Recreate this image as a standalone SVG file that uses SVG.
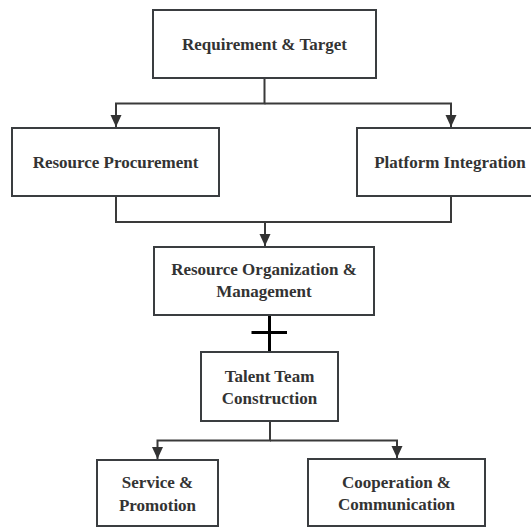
<svg xmlns="http://www.w3.org/2000/svg" width="531" height="527" viewBox="0 0 531 527">
  <style>
    .box { fill: #ffffff; stroke: #3a3d40; stroke-width: 2; }
    .label { font-family: "Liberation Serif", "Times New Roman", serif; font-weight: bold; font-size: 17px; fill: #333333; text-anchor: middle; }
    .link { fill: none; stroke: #3a3a3a; stroke-width: 2; }
    .cross { fill: none; stroke: #000000; stroke-width: 3; }
  </style>
  <defs>
    <marker id="arrow" viewBox="0 0 12 14" refX="12" refY="7" markerWidth="12" markerHeight="14" markerUnits="userSpaceOnUse" orient="auto">
      <path d="M0,1.5 L12,7 L0,12.5 Z" fill="#333333"/>
    </marker>
  </defs>
  <rect width="531" height="527" fill="#ffffff"/>

  <g id="connectors">
    <path class="link" d="M264.5,78 V103.5 H116 V127" marker-end="url(#arrow)"/>
    <path class="link" d="M264.5,103.5 H451 V127" />
    <path class="link" d="M451,103.5 V127" marker-end="url(#arrow)"/>
    <path class="link" d="M116,196 V222 H451 V196"/>
    <path class="link" d="M265,222 V246" marker-end="url(#arrow)"/>
    <path class="cross" d="M269.5,315 V351 M251.5,332.5 H287"/>
    <path class="link" d="M270,421 V440.5 H157.5 V459" marker-end="url(#arrow)"/>
    <path class="link" d="M270,440.5 H397 V458" marker-end="url(#arrow)"/>
  </g>

  <g id="requirement-target">
    <rect class="box" x="153" y="10" width="223" height="68"/>
    <text class="label" x="264.5" y="50">Requirement &amp; Target</text>
  </g>

  <g id="resource-procurement">
    <rect class="box" x="12" y="128" width="207" height="68"/>
    <text class="label" x="115.5" y="168">Resource Procurement</text>
  </g>

  <g id="platform-integration">
    <rect class="box" x="357" y="128" width="190" height="68"/>
    <text class="label" x="450" y="168">Platform Integration</text>
  </g>

  <g id="resource-organization">
    <rect class="box" x="154" y="247" width="220" height="68"/>
    <text class="label" x="264" y="275">Resource Organization &amp;</text>
    <text class="label" x="264" y="297">Management</text>
  </g>

  <g id="talent-team">
    <rect class="box" x="201" y="352" width="137" height="69"/>
    <text class="label" x="269.5" y="382">Talent Team</text>
    <text class="label" x="269.5" y="403.5">Construction</text>
  </g>

  <g id="service-promotion">
    <rect class="box" x="97" y="460" width="121" height="66"/>
    <text class="label" x="157.5" y="488">Service &amp;</text>
    <text class="label" x="157.5" y="510.5">Promotion</text>
  </g>

  <g id="cooperation-communication">
    <rect class="box" x="308" y="459" width="177" height="67"/>
    <text class="label" x="396.5" y="488">Cooperation &amp;</text>
    <text class="label" x="396.5" y="509.5">Communication</text>
  </g>
</svg>
